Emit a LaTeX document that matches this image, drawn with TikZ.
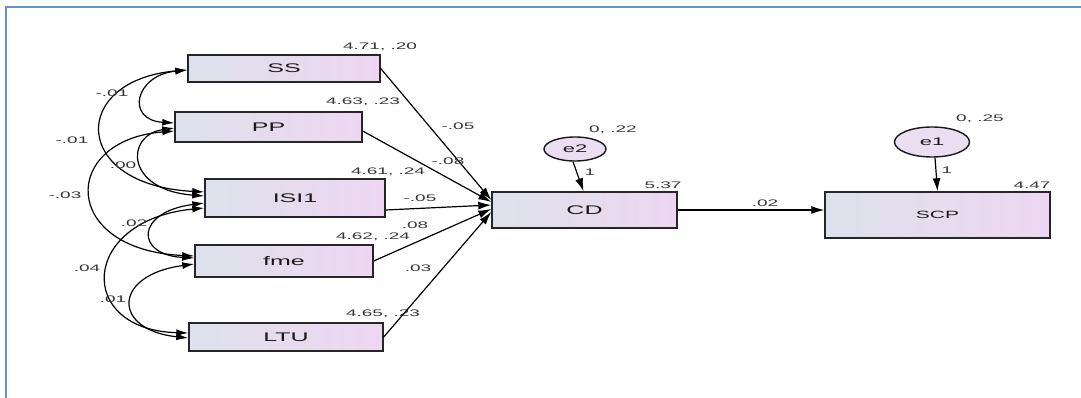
\documentclass[tikz,border=0pt]{standalone}
\usepackage{fontspec}
\setmainfont{Liberation Sans}
\newfontfamily\amos[FakeStretch=2]{Liberation Sans}
\usetikzlibrary{arrows.meta,calc,shapes.geometric}
\definecolor{frameblue}{RGB}{100,145,210}
\definecolor{boxleft}{RGB}{221,225,235}
\definecolor{boxright}{RGB}{238,214,242}
\definecolor{errfill}{RGB}{236,222,242}
\definecolor{numgray}{RGB}{55,55,55}
\begin{document}
\begin{tikzpicture}[x=1pt,y=-1pt,
 var/.style={draw=black!85, line width=1.4pt, left color=boxleft, right color=boxright, inner sep=0pt, font=\amos\fontsize{12.5}{14}\selectfont, text=black!90},
 err/.style={ellipse, draw=black!90, line width=1.4pt, fill=errfill, inner sep=0pt, font=\amos\fontsize{11}{13}\selectfont, text=black!90},
 num/.style={font=\amos\fontsize{9.5}{11}\selectfont, text=numgray, inner sep=0pt},
 reg/.style={-{Latex[length=13pt,width=8pt]}, line width=1.2pt},
 cov/.style={{Latex[length=12pt,width=7pt]}-{Latex[length=12pt,width=7pt]}, line width=1.2pt},
]
\useasboundingbox (0,0) rectangle (1081,398);
\fill[white] (0,0) rectangle (1081,398);
\draw[frameblue, line width=2pt] (6,398) -- (6,7) -- (1081,7);

% observed variables
\node[var, minimum width=192pt, minimum height=27pt] (SS) at (284,68.5) {SS};
\node[var, minimum width=187pt, minimum height=30pt] (PP) at (268.5,127) {PP};
\node[var, minimum width=180pt, minimum height=38pt] (ISI1) at (295,198) {ISI1};
\node[var, minimum width=178pt, minimum height=32pt] (fme) at (284,261) {fme};
\node[var, minimum width=194pt, minimum height=28pt] (LTU) at (286,337) {LTU};
\node[var, minimum width=185pt, minimum height=36pt] (CD) at (584.5,210) {CD};
\node[var, minimum width=225pt, minimum height=46pt, font=\amos\fontsize{10.5}{12}\selectfont] (SCP) at (937.5,215) {SCP};
\node[err, minimum width=62pt, minimum height=24pt] (e2) at (575,149) {e2};
\node[err, minimum width=75pt, minimum height=30pt] (e1) at (932,142) {e1};

% means, variances
\node[num] (mSS) at (380,47) {4.71, .20};
\node[num] (mPP) at (363,102) {4.63, .23};
\node[num] (mISI) at (388,172) {4.61, .24};
\node[num] (mfme) at (373,237) {4.62, .24};
\node[num] (mLTU) at (383,314) {4.65, .23};
\node[num] (mCD) at (663,185) {5.37};
\node[num] (mSCP) at (1032,185) {4.47};
\node[num] (me2) at (613,130) {0, .22};
\node[num] (me1) at (980,119) {0, .25};

% regression paths
\draw[reg] (SS.east) -- ($(CD.west)+(0,-10)$);
\draw[reg] ($(PP.east)+(0,4)$) -- ($(CD.west)+(0,-8)$);
\draw[reg] ($(ISI1.east)+(0,12)$) -- ($(CD.west)+(0,-5)$);
\draw[reg] (fme.east) -- ($(CD.west)+(0,-1)$);
\draw[reg] (LTU.east) -- ($(CD.west)+(0,2)$);
\draw[reg] (CD.east) -- ($(SCP.west)+(0,-5)$);
\draw[reg] ($(e2.south)+(-2,0)$) -- ($(CD.north)+(-1,0)$);
\draw[reg] ($(e1.south)+(3,0)$) -- (SCP.north);

\node[num] (wSS) at (458,126) {-.05};
\node[num] (wPP) at (448,161) {-.08};
\node[num] (wISI) at (420,198) {-.05};
\node[num] (wfme) at (415,225) {.08};
\node[num] (wLTU) at (418,268) {.03};
\node[num] (wCD) at (765,203) {.02};
\node[num] (w2) at (590,172) {1};
\node[num] (w1) at (947,170) {1};

% covariances
\draw[cov] ($(SS.west)+(0,1.5)$) .. controls (135,75) and (125,120) .. ($(PP.west)+(0,-4)$);
\draw[cov] ($(SS.west)+(0,1.5)$) .. controls (70,80) and (70,185) .. ($(ISI1.west)+(0,-6)$);
\draw[cov] ($(PP.west)+(0,1)$) .. controls (125,135) and (125,190) .. ($(ISI1.west)+(0,-2)$);
\draw[cov] ($(PP.west)+(0,4)$) .. controls (60,140) and (60,250) .. ($(fme.west)+(0,-5)$);
\draw[cov] ($(ISI1.west)+(0,5)$) .. controls (135,212) and (135,255) .. ($(fme.west)+(0,-3)$);
\draw[cov] ($(ISI1.west)+(0,10)$) .. controls (80,220) and (75,330) .. ($(LTU.west)+(0,-4)$);
\draw[cov] ($(fme.west)+(0,3)$) .. controls (112,275) and (112,330) .. ($(LTU.west)+(0,1)$);

\node[num] (c1) at (112,93) {-.01};
\node[num] (c2) at (72,140) {-.01};
\node[num] (c3) at (123,165) {.00};
\node[num] (c4) at (65,195) {-.03};
\node[num] (c5) at (134,223) {.02};
\node[num] (c6) at (87,268) {.04};
\node[num] (c7) at (113,299) {.01};
\end{tikzpicture}
\end{document}
